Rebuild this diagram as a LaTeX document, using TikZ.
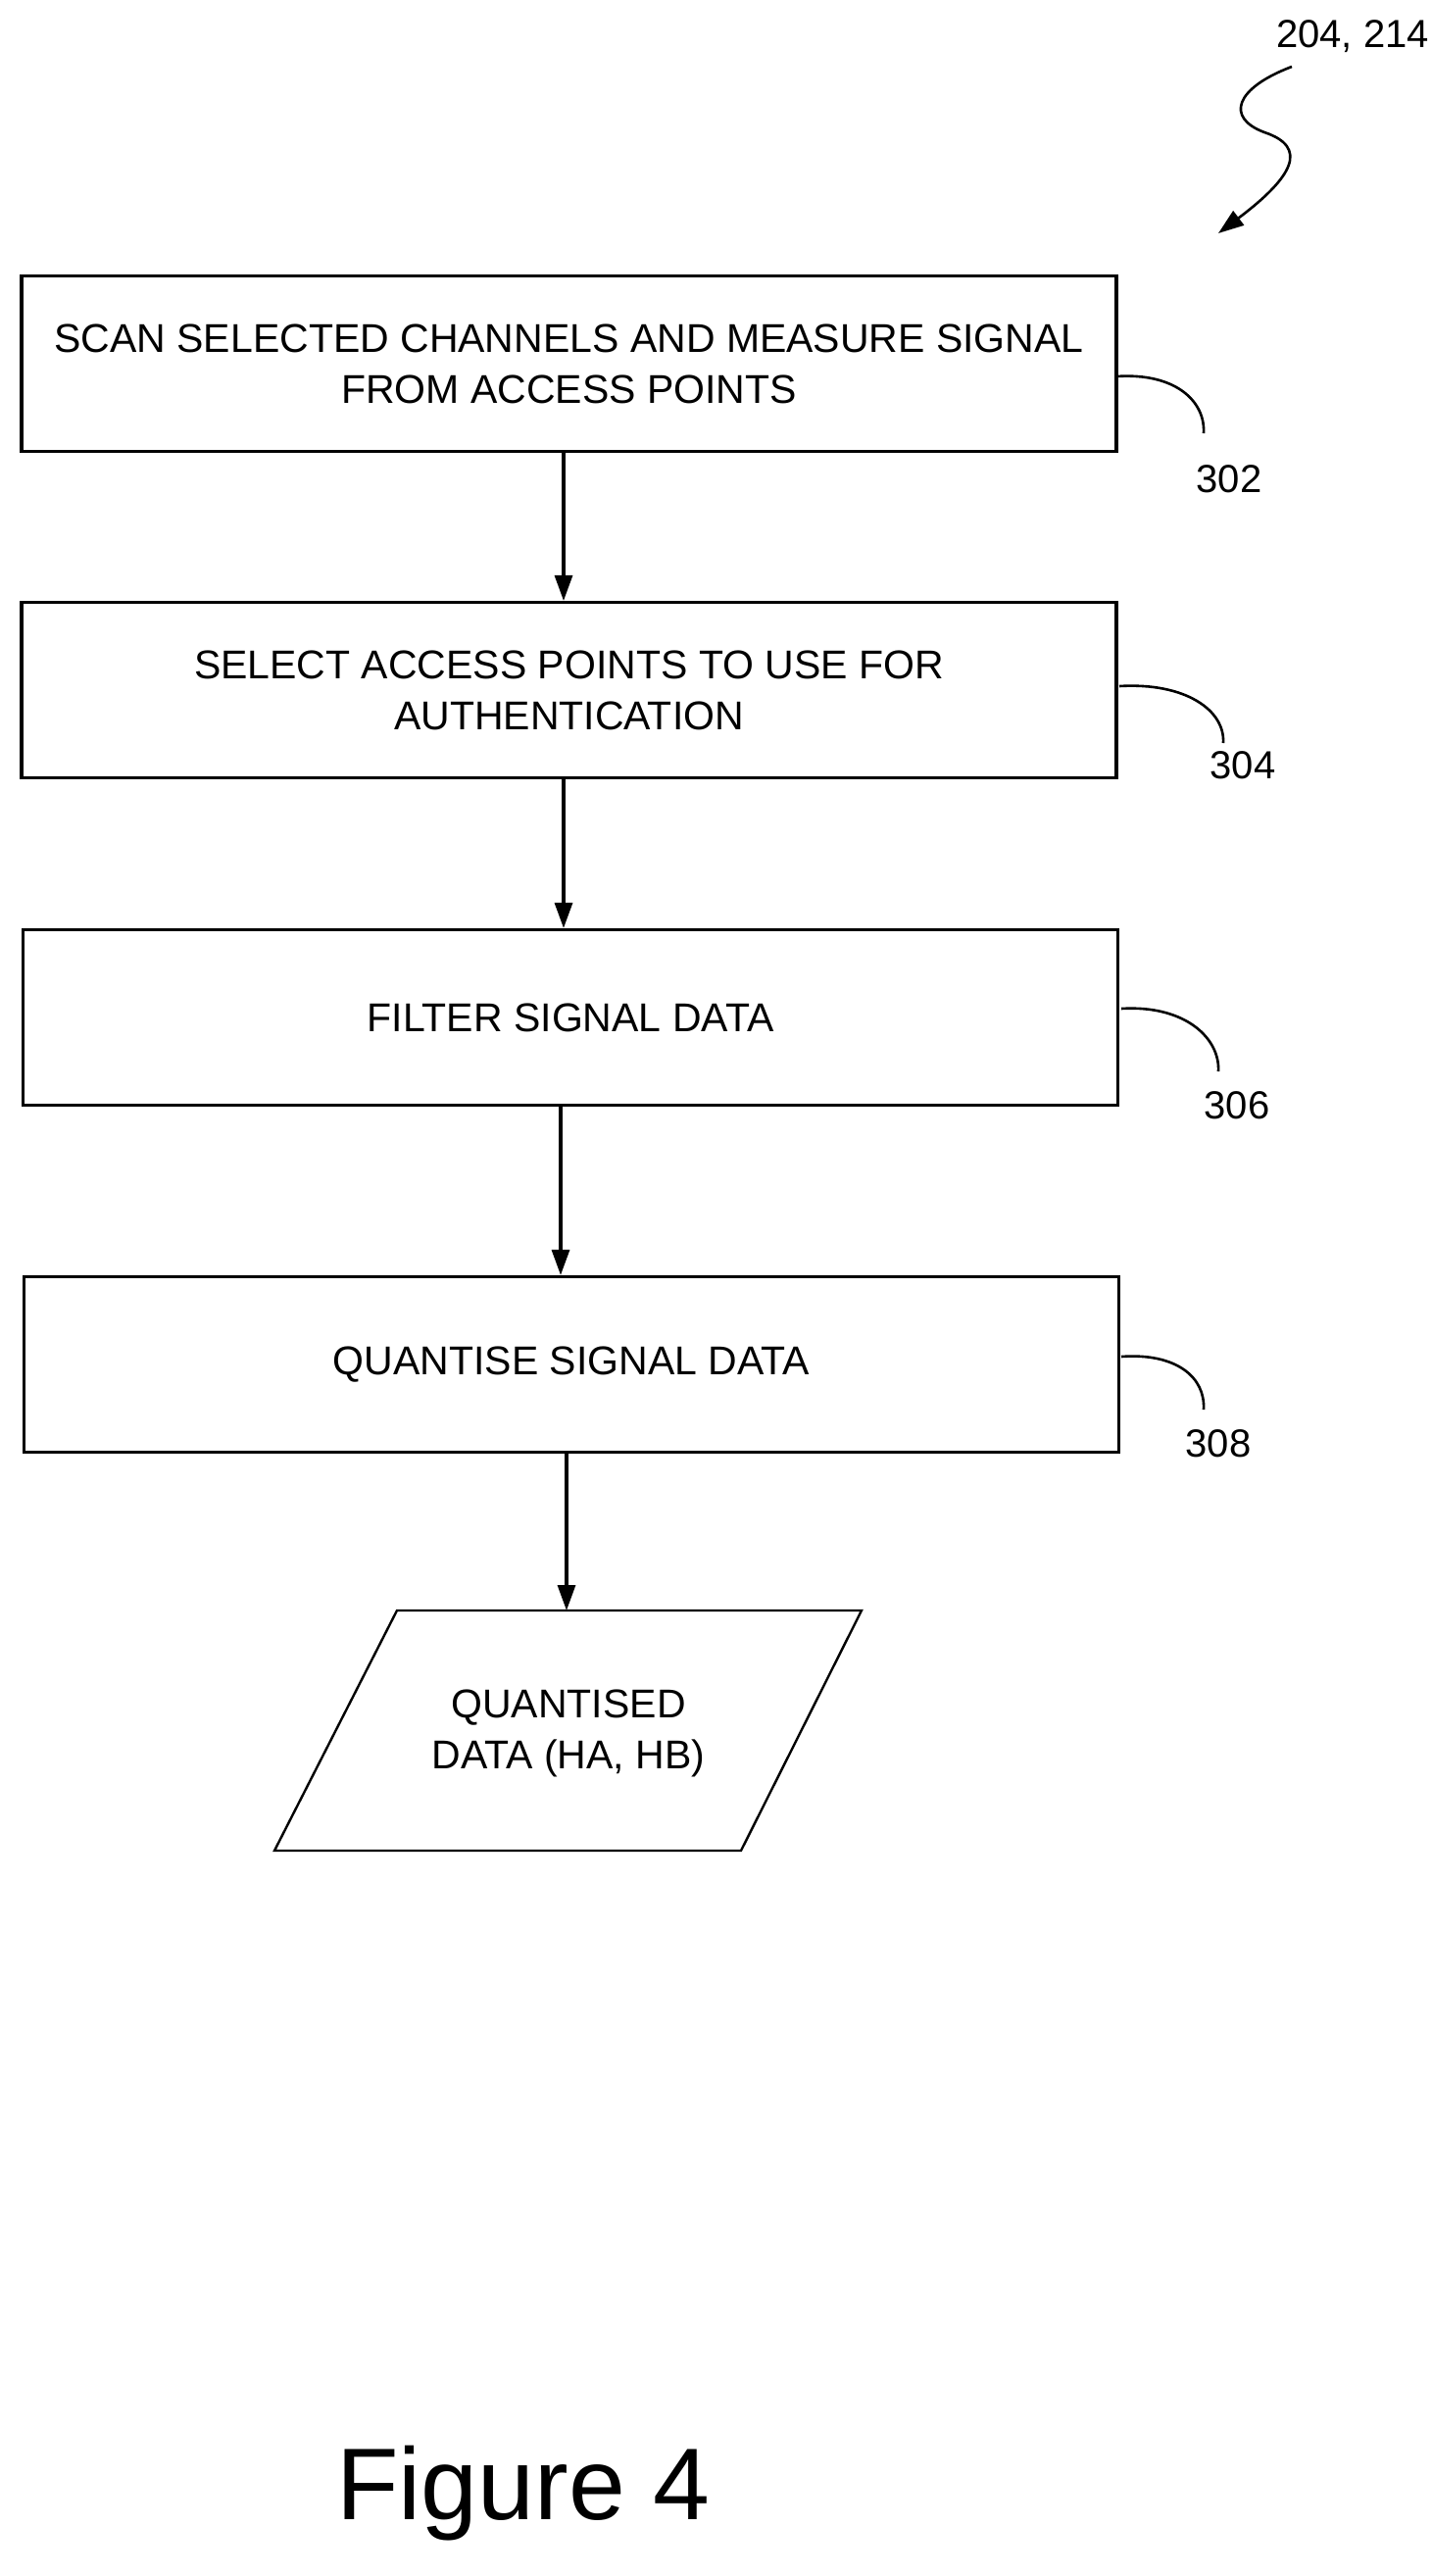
\documentclass[tikz,border=0pt]{standalone}
\usepackage{fontspec}
\setmainfont{Liberation Sans}
\usetikzlibrary{arrows.meta}
\begin{document}
\begin{tikzpicture}[x=0.5pt,y=-0.5pt,
  box/.style={draw,line width=1.6pt,minimum width=558.5pt,minimum height=89.5pt,align=center,font=\fontsize{20.5}{26}\selectfont,inner sep=0},
  arr/.style={line width=1.6pt,-{Triangle[length=13pt,width=9pt]}},
  lead/.style={line width=1.3pt},
  lbl/.style={font=\fontsize{20}{24}\selectfont}]
\useasboundingbox (0,0) rectangle (1461,2628);
\node[box] (b1) at (580.5,371) {SCAN SELECTED CHANNELS AND MEASURE SIGNAL\\FROM ACCESS POINTS};
\node[box] (b2) at (580.5,704) {SELECT ACCESS POINTS TO USE FOR\\AUTHENTICATION};
\node[box] (b3) at (582,1038) {FILTER SIGNAL DATA};
\node[box] (b4) at (583,1392) {QUANTISE SIGNAL DATA};
\coordinate (p1) at (405,1643); \coordinate (p2) at (879,1643);
\coordinate (p3) at (756,1888); \coordinate (p4) at (280,1888);
\draw[line width=1.2pt] (p1)--(p2)--(p3)--(p4)--cycle;
\node[align=center,font=\fontsize{20.5}{26}\selectfont] (q) at (580,1768) {QUANTISED\\DATA (HA, HB)};
\coordinate (qt) at (578,1643);
\draw[arr] (b1.south -| 575,0) -- (b2.north -| 575,0);
\draw[arr] (b2.south -| 575,0) -- (b3.north -| 575,0);
\draw[arr] (b3.south -| 572,0) -- (b4.north -| 572,0);
\draw[arr] (b4.south -| 578,0) -- (qt);
\node[lbl] (l1) at (1254,489) {302};
\node[lbl] (l2) at (1268,781) {304};
\node[lbl] (l3) at (1262,1128) {306};
\node[lbl] (l4) at (1243,1473) {308};
\draw[lead] (1139,384) .. controls (1200,380) and (1230,410) .. (1228,442);
\draw[lead] (1142,700) .. controls (1210,696) and (1250,725) .. (1248,758);
\draw[lead] (1144,1029) .. controls (1210,1025) and (1245,1060) .. (1243,1093);
\draw[lead] (1144,1384) .. controls (1200,1380) and (1230,1405) .. (1228,1438);
\node[lbl] (rt) at (1380,37) {204, 214};
\coordinate (s0) at (1318,68);
\coordinate (tip) at (1243,238);
\draw[line width=1.3pt,-{Triangle[length=13pt,width=9pt]}] (s0) .. controls (1260,90) and (1250,120) .. (1290,135) .. controls (1335,150) and (1320,180) .. (tip);
\node[font=\fontsize{52}{60}\selectfont] (fig) at (534,2544) {Figure 4};
\end{tikzpicture}
\end{document}
